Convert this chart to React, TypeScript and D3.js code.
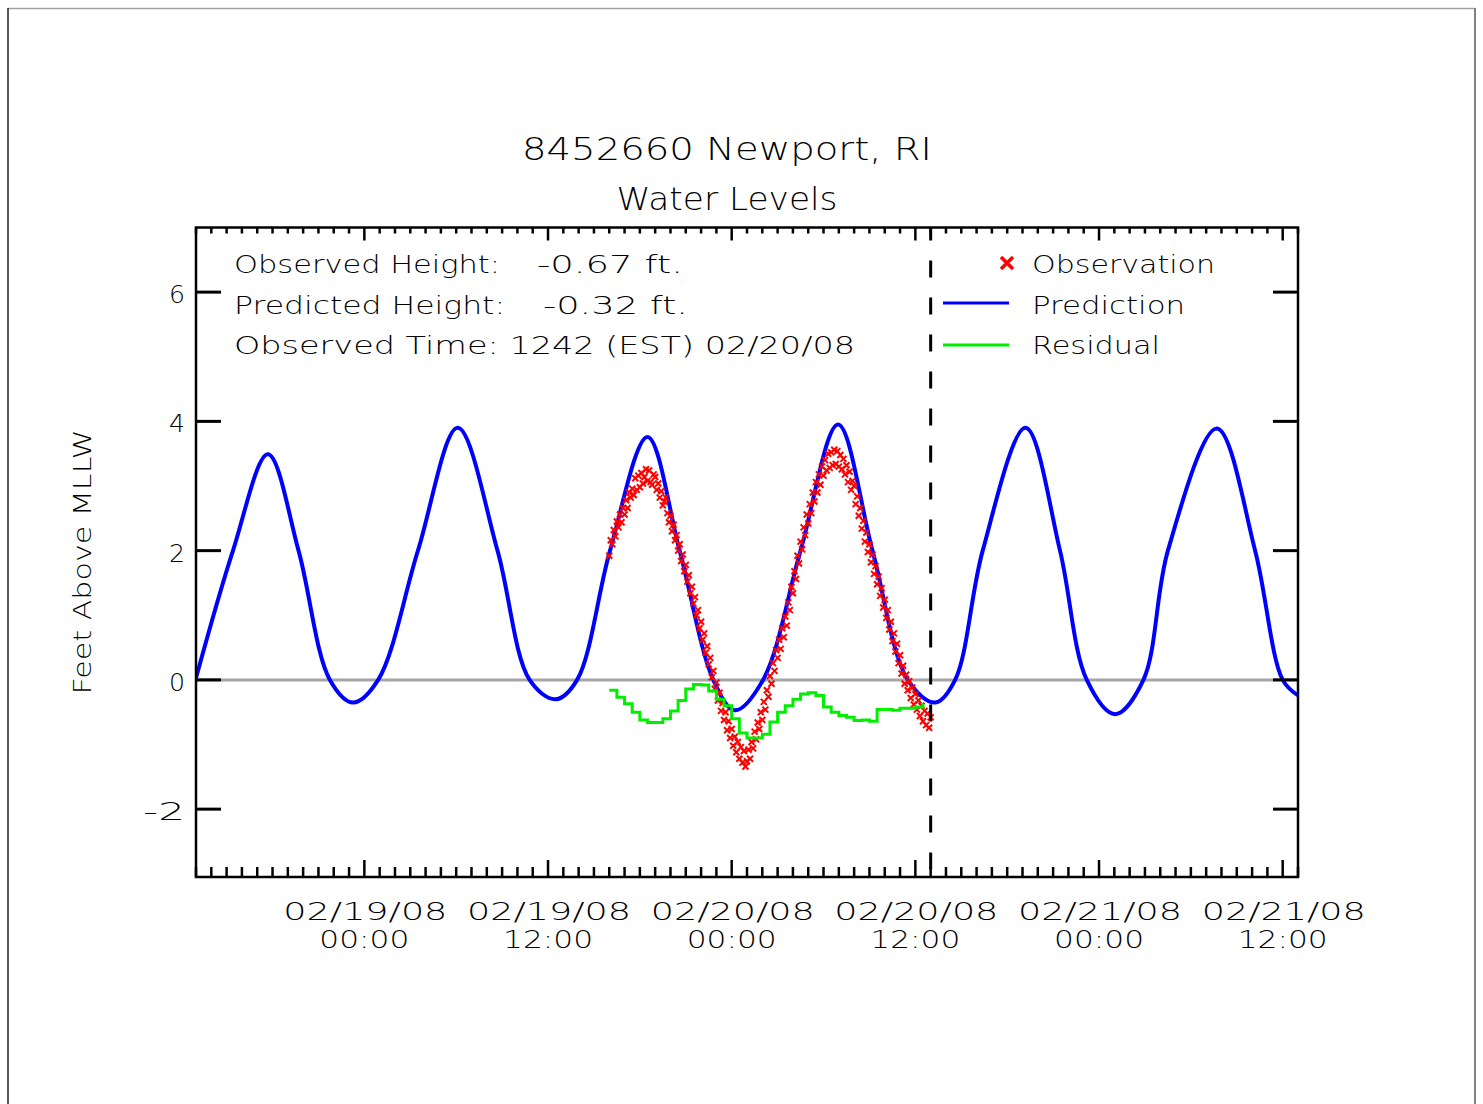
import React from 'react';
import * as d3 from 'd3';

const parseTime = d3.timeParse('%m/%d/%y %H:%M');

// predicted tide (ft above MLLW): highs, lows and crossings of 2 ft and 0 ft
const predTimes = [
  '02/18/08 13:00', '02/18/08 15:25', '02/18/08 17:42', '02/18/08 19:42', '02/18/08 21:45', '02/18/08 23:16',
  '02/19/08 00:54', '02/19/08 03:30', '02/19/08 06:06', '02/19/08 08:42', '02/19/08 10:48', '02/19/08 12:30',
  '02/19/08 13:54', '02/19/08 16:03', '02/19/08 18:30', '02/19/08 20:36', '02/19/08 22:48', '02/20/08 00:12',
  '02/20/08 02:03', '02/20/08 04:30', '02/20/08 06:57', '02/20/08 09:12', '02/20/08 11:30', '02/20/08 13:18',
  '02/20/08 14:36', '02/20/08 16:24', '02/20/08 19:12', '02/20/08 21:27', '02/20/08 23:12', '02/21/08 01:03',
  '02/21/08 02:54', '02/21/08 04:30', '02/21/08 07:42', '02/21/08 10:12', '02/21/08 12:00', '02/21/08 13:00'
];
const predFeet = [
  0.03, 2.0, 3.49, 2.0, 0.0, -0.35,
  0.0, 2.0, 3.9, 2.0, 0.0, -0.3,
  0.0, 2.0, 3.76, 2.0, 0.0, -0.47,
  0.0, 2.0, 3.95, 2.0, 0.0, -0.35,
  0.0, 2.0, 3.9, 2.0, 0.0, -0.53,
  0.0, 2.0, 3.89, 2.0, 0.0, -0.24
];

// observed water level, 6-minute samples (one row per hour)
const obsStart = '02/19/08 16:00';
const obsStepMin = 6;
const obsFeet = [
  1.92, 2.16, 2.1, 2.32, 2.22, 2.45, 2.36, 2.56, 2.44, 2.66,
  2.56, 2.78, 2.66, 2.9, 2.82, 2.96, 2.86, 3.12, 2.94, 3.16,
  2.98, 3.2, 3.04, 3.14, 3.26, 3.08, 3.24, 3.06, 3.02, 3.18,
  3.14, 2.94, 3.04, 2.82, 2.92, 2.7, 2.76, 2.82, 2.58, 2.44,
  2.54, 2.3, 2.4, 2.16, 2.24, 2.0, 2.1, 1.84, 1.94, 1.68,
  1.78, 1.52, 1.62, 1.34, 1.44, 1.18, 1.28, 1.0, 1.08, 0.8,
  0.9, 0.62, 0.72, 0.42, 0.52, 0.24, 0.34, 0.04, 0.14, -0.14,
  -0.04, -0.32, -0.2, -0.48, -0.36, -0.62, -0.5, -0.78, -0.64, -0.9,
  -0.76, -1.02, -0.88, -1.12, -0.96, -1.22, -1.04, -1.28, -1.1, -1.34,
  -1.26, -1.08, -1.22, -0.96, -1.06, -0.8, -0.92, -0.66, -0.76, -0.5,
  -0.62, -0.34, -0.46, -0.16, -0.26, 0.06, -0.06, 0.26, 0.14, 0.46,
  0.34, 0.62, 0.48, 0.8, 0.66, 0.98, 0.84, 1.2, 1.08, 1.44,
  1.34, 1.68, 1.56, 1.92, 1.8, 2.14, 2.02, 2.36, 2.24, 2.56,
  2.42, 2.72, 2.58, 2.9, 2.76, 3.06, 2.9, 3.18, 3.02, 3.3,
  3.16, 3.4, 3.24, 3.5, 3.28, 3.52, 3.32, 3.56, 3.34, 3.54,
  3.3, 3.48, 3.26, 3.42, 3.18, 3.32, 3.06, 3.22, 2.94, 3.08,
  3.0, 2.72, 2.84, 2.54, 2.66, 2.34, 2.46, 2.14, 2.28, 1.98,
  2.1, 1.82, 1.94, 1.64, 1.76, 1.48, 1.6, 1.3, 1.42, 1.12,
  1.24, 0.96, 1.08, 0.78, 0.9, 0.6, 0.72, 0.44, 0.56, 0.26,
  0.38, 0.1, 0.22, -0.06, 0.08, -0.16, -0.02, -0.28, -0.12, -0.38,
  -0.22, -0.46, -0.32, -0.56, -0.4, -0.64, -0.48, -0.7, -0.52, -0.74,
  -0.58
];

// residual (observed - predicted), every 30 minutes
const resStart = '02/19/08 16:00';
const resStepMin = 30;
const resFeet = [
  -0.16, -0.27, -0.37, -0.5, -0.62, -0.66, -0.66, -0.6, -0.48, -0.32,
  -0.14, -0.07, -0.08, -0.17, -0.3, -0.4, -0.6, -0.82, -0.9, -0.9,
  -0.84, -0.65, -0.5, -0.4, -0.3, -0.22, -0.2, -0.24, -0.42, -0.5,
  -0.55, -0.58, -0.63, -0.62, -0.64, -0.46, -0.46, -0.47, -0.44, -0.44,
  -0.42, -0.37
];

const yTicks = [-2, 0, 2, 4, 6];
const xLabelTimes = ['02/19/08 00:00', '02/19/08 12:00', '02/20/08 00:00', '02/20/08 12:00', '02/21/08 00:00', '02/21/08 12:00'];
const domainStart = '02/18/08 13:00';
const domainEnd = '02/21/08 13:00';
const nowTime = '02/20/08 13:00';

const FONT = '"DejaVu Sans", sans-serif';

const series = (start, step, vals) => {
  const t0 = parseTime(start);
  return vals.map((v, i) => ({ date: d3.timeMinute.offset(t0, i * step), value: v }));
};

const T = ({ x, y, w, size = 25, anchor = 'start', children, ...rest }) => (
  <text
    x={x}
    y={y}
    fontFamily={FONT}
    fontSize={size}
    fontWeight={200}
    textAnchor={anchor}
    textLength={w}
    lengthAdjust="spacingAndGlyphs"
    fill="#000"
    {...rest}
  >
    {children}
  </text>
);

export default function App() {
  const W = 1483,
    H = 1104;
  const left = 196,
    right = 1298,
    top = 227.5,
    bottom = 877;

  const x = d3.scaleTime().domain([parseTime(domainStart), parseTime(domainEnd)]).range([left, right]);
  const y = d3.scaleLinear().domain([-3.05, 7]).range([bottom, top]);

  const pred = predTimes.map((t, i) => ({ date: parseTime(t), value: predFeet[i] }));
  const obs = series(obsStart, obsStepMin, obsFeet);
  const res = series(resStart, resStepMin, resFeet);

  const predLine = d3
    .line()
    .curve(d3.curveCatmullRom.alpha(0.5))
    .x(d => x(d.date))
    .y(d => y(d.value));
  const resLine = d3
    .line()
    .curve(d3.curveStepAfter)
    .x(d => x(d.date))
    .y(d => y(d.value));

  const hours = d3.timeHour.range(x.domain()[0], d3.timeMinute.offset(x.domain()[1], 1));
  const nowX = x(parseTime(nowTime));

  return (
    <svg width={W} height={H} style={{ position: 'absolute', left: 0, top: 0, background: '#fff' }}>
      {/* page frame */}
      <line x1={8} x2={1475} y1={8.5} y2={8.5} stroke="#a0a0a0" strokeWidth={1.5} />
      <line x1={8} x2={8} y1={8} y2={H} stroke="#222" strokeWidth={1.5} />
      <line x1={1475} x2={1475} y1={8} y2={H} stroke="#808080" strokeWidth={2} />

      <T x={727} y={160} w={410} size={32} anchor="middle">8452660 Newport, RI</T>
      <T x={727} y={210} w={221} size={32} anchor="middle">Water Levels</T>

      <defs>
        <clipPath id="plot">
          <rect x={left} y={top} width={right - left} height={bottom - top} />
        </clipPath>
      </defs>

      <line x1={left} x2={right} y1={y(0)} y2={y(0)} stroke="#a6a6a6" strokeWidth={3} />

      <g clipPath="url(#plot)">
        <path d={predLine(pred)} fill="none" stroke="#0000ff" strokeWidth={4} />
        {obs.map((d, i) => (
          <path
            key={i}
            transform={`translate(${x(d.date)},${y(d.value)})`}
            d="M-3,-3L3,3M-3,3L3,-3"
            stroke="#ff0000"
            strokeWidth={2}
          />
        ))}
        <path d={resLine(res)} fill="none" stroke="#00ee00" strokeWidth={3} />
      </g>

      {/* now marker */}
      <line x1={nowX} x2={nowX} y1={top} y2={bottom} stroke="#000" strokeWidth={3} strokeDasharray="17 20" strokeDashoffset={4} />

      {/* frame */}
      <rect x={left} y={top} width={right - left} height={bottom - top} fill="none" stroke="#000" strokeWidth={2.5} />

      {/* hourly ticks */}
      {hours.map((h, i) => {
        const major = h.getHours() % 12 === 0;
        const hx = x(h);
        return (
          <g key={i}>
            <line x1={hx} x2={hx} y1={top} y2={top + (major ? 13 : 6)} stroke="#000" strokeWidth={2.5} />
            <line x1={hx} x2={hx} y1={bottom} y2={bottom - (major ? 17 : 10)} stroke="#000" strokeWidth={2.5} />
          </g>
        );
      })}

      {/* y ticks */}
      {yTicks.map(t => (
        <g key={t}>
          <line x1={left} x2={left + 25} y1={y(t)} y2={y(t)} stroke="#000" strokeWidth={3} />
          <line x1={right - 25} x2={right} y1={y(t)} y2={y(t)} stroke="#000" strokeWidth={3} />
          <T x={185} y={y(t) + 11} w={t < 0 ? 42 : 16} anchor="end">
            {String(t)}
          </T>
        </g>
      ))}

      {/* x labels */}
      {xLabelTimes.map(s => {
        const d = parseTime(s);
        const lx = x(d);
        return (
          <g key={s}>
            <T x={lx + 1} y={920} w={164} anchor="middle">
              {d3.timeFormat('%m/%d/%y')(d)}
            </T>
            <T x={lx} y={948} w={90} anchor="middle">
              {d3.timeFormat('%H:%M')(d)}
            </T>
          </g>
        );
      })}

      <T x={0} y={0} w={265} anchor="middle" transform="translate(91,562) rotate(-90)">
        Feet Above MLLW
      </T>

      {/* readout */}
      <T x={234} y={273} w={266}>Observed Height:</T>
      <T x={537} y={273} w={146}>-0.67 ft.</T>
      <T x={234} y={314} w={271}>Predicted Height:</T>
      <T x={543} y={314} w={145}>-0.32 ft.</T>
      <T x={234} y={354} w={621}>Observed Time: 1242 (EST) 02/20/08</T>

      {/* legend */}
      <path transform="translate(1007,263)" d="M-6,-6L6,6M-6,6L6,-6" stroke="#ff0000" strokeWidth={3.5} />
      <T x={1032} y={273} w={183}>Observation</T>
      <line x1={943} x2={1009} y1={303} y2={303} stroke="#0000ff" strokeWidth={3} />
      <T x={1032} y={314} w={153}>Prediction</T>
      <line x1={943} x2={1009} y1={345} y2={345} stroke="#00ee00" strokeWidth={3} />
      <T x={1032} y={354} w={128}>Residual</T>
    </svg>
  );
}
